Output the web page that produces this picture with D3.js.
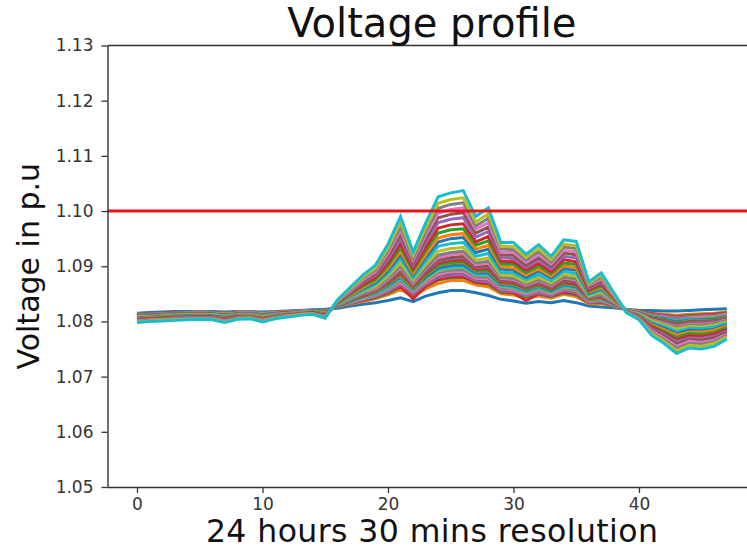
<!DOCTYPE html>
<html>
<head>
<meta charset="utf-8">
<script src="https://cdn.jsdelivr.net/npm/d3@7"></script>
<style>
  html, body { margin: 0; padding: 0; background: #ffffff; }
  svg { display: block; font-family: "DejaVu Sans", sans-serif; }
</style>
</head>
<body>
<svg id="chart" width="747" height="550"></svg>
<script>
// Half-hour time steps over one day
const halfHours = [0,1,2,3,4,5,6,7,8,9,10,11,12,13,14,15,16,17,18,19,20,21,22,23,
                   24,25,26,27,28,29,30,31,32,33,34,35,36,37,38,39,40,41,42,43,44,45,46,47];

// Bus voltages (p.u.) for each half-hour step
const bus01 = [1.0815,1.0816,1.0817,1.0818,1.0818,1.0818,1.0818,1.0817,1.0818,1.0818,1.0817,1.0818,1.0819,1.0820,1.0821,1.0822,
               1.0824,1.0828,1.0831,1.0834,1.0838,1.0843,1.0836,1.0846,1.0852,1.0856,1.0856,1.0852,1.0847,1.0840,1.0837,1.0833,
               1.0836,1.0834,1.0838,1.0834,1.0828,1.0826,1.0825,1.0822,1.0820,1.0820,1.0819,1.0819,1.0820,1.0821,1.0822,1.0823];
const bus02 = [1.0813,1.0814,1.0815,1.0816,1.0816,1.0817,1.0816,1.0815,1.0817,1.0817,1.0815,1.0817,1.0818,1.0819,1.0820,1.0820,
               1.0826,1.0831,1.0836,1.0841,1.0848,1.0858,1.0845,1.0859,1.0869,1.0874,1.0874,1.0866,1.0863,1.0850,1.0848,1.0842,
               1.0846,1.0842,1.0849,1.0845,1.0832,1.0832,1.0828,1.0821,1.0818,1.0815,1.0813,1.0811,1.0813,1.0814,1.0815,1.0817];
const bus03 = [1.0813,1.0814,1.0815,1.0816,1.0816,1.0816,1.0816,1.0815,1.0816,1.0816,1.0815,1.0816,1.0818,1.0819,1.0820,1.0820,
               1.0826,1.0832,1.0838,1.0843,1.0851,1.0862,1.0848,1.0863,1.0875,1.0879,1.0880,1.0870,1.0868,1.0853,1.0851,1.0845,
               1.0849,1.0845,1.0852,1.0848,1.0834,1.0834,1.0829,1.0821,1.0818,1.0814,1.0811,1.0809,1.0811,1.0812,1.0813,1.0816];
const bus04 = [1.0813,1.0814,1.0815,1.0816,1.0816,1.0816,1.0816,1.0814,1.0816,1.0816,1.0814,1.0816,1.0817,1.0819,1.0820,1.0820,
               1.0826,1.0833,1.0838,1.0844,1.0852,1.0864,1.0841,1.0864,1.0876,1.0881,1.0881,1.0871,1.0869,1.0854,1.0852,1.0838,
               1.0850,1.0846,1.0853,1.0850,1.0834,1.0835,1.0829,1.0821,1.0818,1.0814,1.0811,1.0808,1.0810,1.0811,1.0813,1.0815];
const bus05 = [1.0812,1.0813,1.0814,1.0815,1.0816,1.0816,1.0816,1.0814,1.0816,1.0816,1.0814,1.0816,1.0817,1.0819,1.0820,1.0819,
               1.0827,1.0833,1.0839,1.0845,1.0854,1.0867,1.0850,1.0867,1.0880,1.0884,1.0885,1.0874,1.0872,1.0856,1.0854,1.0847,
               1.0852,1.0847,1.0856,1.0852,1.0835,1.0836,1.0829,1.0821,1.0817,1.0813,1.0810,1.0807,1.0809,1.0810,1.0811,1.0814];
const bus06 = [1.0812,1.0813,1.0814,1.0815,1.0815,1.0815,1.0815,1.0814,1.0815,1.0816,1.0814,1.0816,1.0817,1.0818,1.0820,1.0819,
               1.0827,1.0834,1.0841,1.0846,1.0856,1.0869,1.0852,1.0870,1.0883,1.0888,1.0889,1.0877,1.0876,1.0859,1.0856,1.0849,
               1.0855,1.0849,1.0858,1.0854,1.0836,1.0837,1.0830,1.0821,1.0817,1.0812,1.0808,1.0805,1.0808,1.0808,1.0810,1.0813];
const bus07 = [1.0812,1.0813,1.0814,1.0815,1.0815,1.0815,1.0815,1.0813,1.0815,1.0816,1.0814,1.0816,1.0817,1.0818,1.0819,1.0819,
               1.0827,1.0834,1.0841,1.0847,1.0857,1.0871,1.0853,1.0871,1.0885,1.0890,1.0890,1.0878,1.0877,1.0860,1.0857,1.0850,
               1.0856,1.0850,1.0859,1.0855,1.0836,1.0838,1.0830,1.0821,1.0817,1.0811,1.0808,1.0804,1.0807,1.0808,1.0809,1.0813];
const bus08 = [1.0811,1.0813,1.0814,1.0815,1.0815,1.0815,1.0815,1.0813,1.0815,1.0815,1.0813,1.0815,1.0817,1.0818,1.0819,1.0819,
               1.0827,1.0835,1.0842,1.0848,1.0859,1.0874,1.0855,1.0874,1.0889,1.0893,1.0894,1.0881,1.0880,1.0862,1.0859,1.0852,
               1.0858,1.0852,1.0861,1.0857,1.0837,1.0839,1.0831,1.0821,1.0816,1.0811,1.0807,1.0803,1.0806,1.0806,1.0808,1.0811];
const bus09 = [1.0811,1.0812,1.0813,1.0814,1.0815,1.0815,1.0815,1.0813,1.0815,1.0815,1.0813,1.0815,1.0816,1.0818,1.0819,1.0818,
               1.0828,1.0836,1.0843,1.0850,1.0861,1.0877,1.0857,1.0876,1.0892,1.0897,1.0898,1.0884,1.0884,1.0864,1.0861,1.0853,
               1.0860,1.0853,1.0863,1.0860,1.0838,1.0840,1.0831,1.0821,1.0816,1.0810,1.0805,1.0801,1.0804,1.0805,1.0807,1.0810];
const bus10 = [1.0811,1.0812,1.0813,1.0814,1.0814,1.0815,1.0814,1.0812,1.0815,1.0815,1.0813,1.0815,1.0816,1.0818,1.0819,1.0818,
               1.0828,1.0836,1.0844,1.0850,1.0862,1.0878,1.0858,1.0878,1.0894,1.0898,1.0899,1.0885,1.0885,1.0865,1.0862,1.0854,
               1.0861,1.0854,1.0864,1.0861,1.0839,1.0841,1.0831,1.0821,1.0816,1.0809,1.0805,1.0801,1.0804,1.0804,1.0806,1.0810];
const bus11 = [1.0811,1.0812,1.0813,1.0814,1.0814,1.0814,1.0814,1.0812,1.0814,1.0815,1.0812,1.0815,1.0816,1.0818,1.0819,1.0818,
               1.0828,1.0837,1.0845,1.0852,1.0865,1.0881,1.0859,1.0880,1.0897,1.0902,1.0903,1.0888,1.0888,1.0867,1.0865,1.0856,
               1.0863,1.0856,1.0867,1.0863,1.0839,1.0842,1.0832,1.0820,1.0816,1.0808,1.0804,1.0799,1.0802,1.0803,1.0805,1.0809];
const bus12 = [1.0810,1.0811,1.0812,1.0813,1.0814,1.0814,1.0814,1.0812,1.0814,1.0814,1.0812,1.0814,1.0816,1.0817,1.0819,1.0817,
               1.0829,1.0838,1.0846,1.0853,1.0867,1.0884,1.0861,1.0883,1.0901,1.0906,1.0907,1.0891,1.0892,1.0869,1.0867,1.0858,
               1.0865,1.0858,1.0869,1.0865,1.0840,1.0843,1.0833,1.0820,1.0815,1.0807,1.0802,1.0797,1.0801,1.0801,1.0803,1.0808];
const bus13 = [1.0810,1.0811,1.0812,1.0813,1.0814,1.0814,1.0814,1.0811,1.0814,1.0814,1.0812,1.0814,1.0816,1.0817,1.0819,1.0817,
               1.0829,1.0838,1.0846,1.0854,1.0868,1.0886,1.0862,1.0884,1.0902,1.0907,1.0908,1.0892,1.0893,1.0870,1.0868,1.0859,
               1.0866,1.0858,1.0870,1.0866,1.0841,1.0844,1.0833,1.0820,1.0815,1.0807,1.0802,1.0797,1.0800,1.0800,1.0803,1.0807];
const bus14 = [1.0810,1.0811,1.0812,1.0813,1.0813,1.0814,1.0813,1.0811,1.0814,1.0814,1.0811,1.0814,1.0816,1.0817,1.0819,1.0817,
               1.0829,1.0839,1.0847,1.0855,1.0870,1.0889,1.0864,1.0887,1.0906,1.0911,1.0912,1.0895,1.0896,1.0872,1.0870,1.0861,
               1.0868,1.0860,1.0872,1.0868,1.0842,1.0845,1.0833,1.0820,1.0815,1.0806,1.0801,1.0795,1.0799,1.0799,1.0801,1.0806];
const bus15 = [1.0809,1.0811,1.0812,1.0813,1.0813,1.0813,1.0813,1.0811,1.0813,1.0814,1.0811,1.0814,1.0815,1.0817,1.0818,1.0817,
               1.0829,1.0839,1.0848,1.0856,1.0872,1.0892,1.0866,1.0890,1.0909,1.0914,1.0916,1.0898,1.0899,1.0874,1.0872,1.0862,
               1.0870,1.0862,1.0874,1.0871,1.0843,1.0846,1.0834,1.0820,1.0814,1.0805,1.0800,1.0794,1.0798,1.0798,1.0800,1.0805];
const bus16 = [1.0809,1.0811,1.0812,1.0813,1.0813,1.0813,1.0813,1.0811,1.0813,1.0814,1.0811,1.0814,1.0815,1.0817,1.0818,1.0817,
               1.0829,1.0840,1.0849,1.0857,1.0873,1.0893,1.0867,1.0891,1.0911,1.0916,1.0918,1.0899,1.0901,1.0875,1.0873,1.0863,
               1.0871,1.0863,1.0875,1.0872,1.0843,1.0847,1.0834,1.0820,1.0814,1.0805,1.0799,1.0793,1.0797,1.0797,1.0799,1.0804];
const bus17 = [1.0809,1.0810,1.0811,1.0812,1.0812,1.0813,1.0812,1.0810,1.0813,1.0813,1.0810,1.0813,1.0815,1.0817,1.0818,1.0816,
               1.0830,1.0841,1.0851,1.0859,1.0876,1.0897,1.0869,1.0895,1.0916,1.0921,1.0923,1.0903,1.0906,1.0878,1.0876,1.0866,
               1.0874,1.0865,1.0879,1.0875,1.0844,1.0849,1.0835,1.0820,1.0814,1.0803,1.0797,1.0791,1.0795,1.0795,1.0797,1.0803];
const bus18 = [1.0808,1.0810,1.0811,1.0812,1.0812,1.0813,1.0812,1.0810,1.0813,1.0813,1.0810,1.0813,1.0815,1.0816,1.0818,1.0816,
               1.0830,1.0841,1.0852,1.0861,1.0878,1.0900,1.0871,1.0897,1.0920,1.0925,1.0927,1.0906,1.0909,1.0880,1.0878,1.0868,
               1.0876,1.0867,1.0881,1.0877,1.0845,1.0850,1.0836,1.0820,1.0813,1.0802,1.0796,1.0789,1.0793,1.0793,1.0796,1.0802];
const bus19 = [1.0808,1.0809,1.0810,1.0811,1.0812,1.0812,1.0812,1.0809,1.0812,1.0812,1.0809,1.0812,1.0814,1.0816,1.0818,1.0815,
               1.0831,1.0843,1.0854,1.0863,1.0882,1.0906,1.0875,1.0903,1.0927,1.0932,1.0934,1.0911,1.0915,1.0884,1.0883,1.0871,
               1.0880,1.0870,1.0885,1.0882,1.0847,1.0853,1.0837,1.0819,1.0813,1.0801,1.0794,1.0786,1.0791,1.0790,1.0793,1.0799];
const bus20 = [1.0807,1.0808,1.0809,1.0810,1.0811,1.0811,1.0811,1.0808,1.0811,1.0812,1.0808,1.0812,1.0814,1.0816,1.0817,1.0814,
               1.0832,1.0844,1.0856,1.0867,1.0887,1.0914,1.0879,1.0909,1.0936,1.0941,1.0943,1.0918,1.0923,1.0889,1.0888,1.0876,
               1.0885,1.0874,1.0891,1.0887,1.0849,1.0856,1.0838,1.0819,1.0812,1.0798,1.0791,1.0782,1.0787,1.0787,1.0790,1.0797];
const bus21 = [1.0806,1.0808,1.0809,1.0810,1.0810,1.0811,1.0810,1.0807,1.0811,1.0811,1.0807,1.0811,1.0813,1.0815,1.0817,1.0814,
               1.0832,1.0846,1.0859,1.0870,1.0892,1.0921,1.0884,1.0916,1.0944,1.0950,1.0952,1.0925,1.0931,1.0895,1.0893,1.0880,
               1.0891,1.0879,1.0896,1.0893,1.0851,1.0859,1.0839,1.0819,1.0811,1.0796,1.0788,1.0778,1.0784,1.0783,1.0786,1.0794];
const bus22 = [1.0805,1.0807,1.0808,1.0809,1.0809,1.0810,1.0809,1.0806,1.0810,1.0811,1.0807,1.0811,1.0813,1.0815,1.0816,1.0813,
               1.0833,1.0847,1.0861,1.0873,1.0896,1.0927,1.0887,1.0921,1.0951,1.0957,1.0959,1.0931,1.0938,1.0899,1.0897,1.0884,
               1.0895,1.0882,1.0901,1.0897,1.0853,1.0861,1.0840,1.0819,1.0810,1.0794,1.0785,1.0775,1.0781,1.0781,1.0784,1.0792];
const bus23 = [1.0804,1.0806,1.0807,1.0808,1.0809,1.0809,1.0809,1.0805,1.0809,1.0810,1.0806,1.0810,1.0812,1.0814,1.0816,1.0812,
               1.0834,1.0849,1.0864,1.0876,1.0901,1.0934,1.0892,1.0928,1.0960,1.0966,1.0968,1.0938,1.0946,1.0904,1.0903,1.0888,
               1.0900,1.0886,1.0906,1.0903,1.0855,1.0864,1.0842,1.0818,1.0809,1.0792,1.0782,1.0771,1.0778,1.0777,1.0780,1.0789];
const bus24 = [1.0804,1.0805,1.0806,1.0807,1.0808,1.0809,1.0808,1.0804,1.0809,1.0809,1.0805,1.0809,1.0812,1.0814,1.0816,1.0811,
               1.0835,1.0851,1.0867,1.0880,1.0906,1.0941,1.0896,1.0934,1.0969,1.0975,1.0977,1.0944,1.0954,1.0909,1.0908,1.0893,
               1.0905,1.0890,1.0912,1.0908,1.0857,1.0868,1.0843,1.0818,1.0809,1.0790,1.0779,1.0767,1.0774,1.0773,1.0777,1.0786];
const bus25 = [1.0803,1.0804,1.0805,1.0806,1.0807,1.0808,1.0807,1.0803,1.0808,1.0809,1.0804,1.0809,1.0811,1.0813,1.0815,1.0810,
               1.0836,1.0853,1.0870,1.0884,1.0912,1.0950,1.0902,1.0942,1.0979,1.0985,1.0988,1.0953,1.0963,1.0915,1.0914,1.0898,
               1.0911,1.0895,1.0918,1.0915,1.0860,1.0871,1.0845,1.0818,1.0808,1.0787,1.0776,1.0763,1.0770,1.0769,1.0773,1.0783];
const bus26 = [1.0802,1.0804,1.0805,1.0806,1.0806,1.0807,1.0806,1.0802,1.0807,1.0808,1.0803,1.0808,1.0810,1.0813,1.0815,1.0810,
               1.0836,1.0855,1.0872,1.0887,1.0918,1.0958,1.0906,1.0949,1.0988,1.0994,1.0997,1.0960,1.0971,1.0920,1.0920,1.0902,
               1.0916,1.0900,1.0924,1.0921,1.0862,1.0874,1.0846,1.0817,1.0807,1.0785,1.0773,1.0759,1.0767,1.0766,1.0770,1.0780];
const bus27 = [1.0801,1.0803,1.0804,1.0805,1.0806,1.0806,1.0806,1.0801,1.0806,1.0807,1.0802,1.0807,1.0810,1.0813,1.0814,1.0809,
               1.0837,1.0856,1.0875,1.0890,1.0923,1.0965,1.0911,1.0956,1.0996,1.1003,1.1006,1.0967,1.0979,1.0925,1.0925,1.0907,
               1.0921,1.0904,1.0929,1.0926,1.0865,1.0877,1.0847,1.0817,1.0806,1.0783,1.0770,1.0755,1.0764,1.0762,1.0766,1.0777];
const bus28 = [1.0800,1.0802,1.0803,1.0804,1.0805,1.0806,1.0805,1.0800,1.0806,1.0807,1.0801,1.0807,1.0809,1.0812,1.0814,1.0808,
               1.0838,1.0858,1.0878,1.0894,1.0928,1.0972,1.0915,1.0962,1.1005,1.1012,1.1015,1.0973,1.0987,1.0931,1.0930,1.0911,
               1.0927,1.0908,1.0935,1.0932,1.0867,1.0881,1.0849,1.0817,1.0805,1.0780,1.0767,1.0751,1.0760,1.0759,1.0763,1.0775];
const bus29 = [1.0799,1.0801,1.0802,1.0803,1.0804,1.0805,1.0804,1.0799,1.0805,1.0806,1.0800,1.0806,1.0809,1.0812,1.0814,1.0807,
               1.0839,1.0860,1.0880,1.0897,1.0933,1.0980,1.0920,1.0969,1.1014,1.1021,1.1024,1.0980,1.0995,1.0936,1.0936,1.0916,
               1.0932,1.0912,1.0940,1.0937,1.0869,1.0884,1.0850,1.0816,1.0804,1.0778,1.0764,1.0747,1.0757,1.0755,1.0760,1.0772];
const bus30 = [1.0798,1.0800,1.0801,1.0802,1.0803,1.0804,1.0803,1.0798,1.0804,1.0805,1.0799,1.0805,1.0808,1.0811,1.0813,1.0806,
               1.0840,1.0862,1.0884,1.0902,1.0940,1.0990,1.0926,1.0978,1.1026,1.1033,1.1037,1.0990,1.1006,1.0943,1.0943,1.0922,
               1.0939,1.0918,1.0948,1.0945,1.0872,1.0888,1.0852,1.0816,1.0803,1.0775,1.0760,1.0742,1.0752,1.0750,1.0755,1.0768];

const xTicks = [0, 10, 20, 30, 40];
const yTicks = [1.05, 1.06, 1.07, 1.08, 1.09, 1.10, 1.11, 1.12, 1.13];
const voltageLimit = 1.10;

const titleText = "Voltage profile";
const xLabelText = "24 hours 30 mins resolution";
const yLabelText = "Voltage in p.u";

const buses = [bus01, bus02, bus03, bus04, bus05, bus06, bus07, bus08, bus09, bus10,
               bus11, bus12, bus13, bus14, bus15, bus16, bus17, bus18, bus19, bus20,
               bus21, bus22, bus23, bus24, bus25, bus26, bus27, bus28, bus29, bus30];

// Plot frame (the right edge of the axes sits just past the canvas)
const plotLeft = 107.5, plotRight = 756.3, plotTop = 45.5, plotBottom = 487;

const svg = d3.select("#chart");

const x = d3.scaleLinear().domain([-2.35, 49.35]).range([plotLeft, plotRight]);
const y = d3.scaleLinear().domain([1.05, 1.13]).range([plotBottom, plotTop]);
const color = d3.scaleOrdinal().domain(d3.range(buses.length)).range(d3.schemeCategory10);

svg.append("defs").append("clipPath").attr("id", "plot-area")
  .append("rect").attr("x", plotLeft).attr("y", plotTop)
  .attr("width", plotRight - plotLeft).attr("height", plotBottom - plotTop);

// Voltage traces, one per bus
const line = d3.line()
  .x((d, i) => x(halfHours[i]))
  .y(d => y(d));

svg.append("g").attr("clip-path", "url(#plot-area)")
  .selectAll("path")
  .data(buses)
  .join("path")
  .attr("d", line)
  .attr("fill", "none")
  .attr("stroke", (d, i) => color(i))
  .attr("stroke-width", 3);

// Upper voltage limit
svg.append("line")
  .attr("x1", plotLeft).attr("x2", plotRight)
  .attr("y1", y(voltageLimit)).attr("y2", y(voltageLimit))
  .attr("stroke", "#e8141a")
  .attr("stroke-width", 3);

// Axes
const xAxis = d3.axisBottom(x).tickValues(xTicks).tickFormat(d3.format("d"))
  .tickSize(6).tickSizeOuter(0).tickPadding(5);
const yAxis = d3.axisLeft(y).tickValues(yTicks).tickFormat(d3.format(".2f"))
  .tickSize(6).tickSizeOuter(0).tickPadding(8);

const gx = svg.append("g").attr("transform", `translate(0,${plotBottom})`).call(xAxis);
const gy = svg.append("g").attr("transform", `translate(${plotLeft},0)`).call(yAxis);

[gx, gy].forEach(g => {
  g.select(".domain").attr("stroke", "#333").attr("stroke-width", 1.4);
  g.selectAll(".tick line").attr("stroke", "#333").attr("stroke-width", 1.3);
  g.selectAll(".tick text")
    .attr("fill", "#333")
    .style("font-family", "'DejaVu Sans', sans-serif")
    .style("font-size", "17px");
});

// Top spine
svg.append("line")
  .attr("x1", plotLeft).attr("x2", plotRight)
  .attr("y1", plotTop).attr("y2", plotTop)
  .attr("stroke", "#333").attr("stroke-width", 1.4);

// Title and axis labels
svg.append("text")
  .attr("x", (plotLeft + plotRight) / 2).attr("y", 37)
  .attr("text-anchor", "middle")
  .attr("fill", "#111")
  .style("font-size", "40px")
  .text(titleText);

svg.append("text")
  .attr("x", (plotLeft + plotRight) / 2).attr("y", 542)
  .attr("text-anchor", "middle")
  .attr("fill", "#111")
  .attr("textLength", 452)
  .attr("lengthAdjust", "spacing")
  .style("font-size", "31.5px")
  .text(xLabelText);

svg.append("text")
  .attr("transform", `translate(39,${(plotTop + plotBottom) / 2}) rotate(-90)`)
  .attr("text-anchor", "middle")
  .attr("fill", "#111")
  .style("font-size", "30px")
  .text(yLabelText);
</script>
</body>
</html>
